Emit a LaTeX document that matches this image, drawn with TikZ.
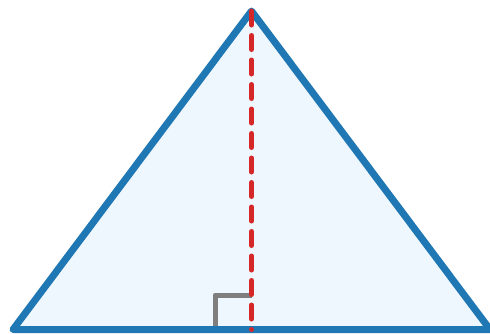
\documentclass[tikz,border=0pt]{standalone}
\usepackage{tikz}
\definecolor{triblue}{HTML}{1F77B4}
\definecolor{trifill}{HTML}{EEF6FE}
\definecolor{trired}{HTML}{D62728}
\definecolor{trigray}{HTML}{7F7F7F}
\tikzset{
  outline/.style={draw=triblue, line width=7pt, line join=round, fill=trifill},
  heightline/.style={draw=trired, line width=5pt, line cap=round, dash pattern=on 14pt off 10.5pt},
  rightmark/.style={draw=trigray, line width=5pt, line join=round}
}
\begin{document}
\begin{tikzpicture}[x=1pt,y=-1pt]
\useasboundingbox (0,0) rectangle (490,333);
\coordinate (A) at (251.5,11);
\coordinate (B) at (13,329.5);
\coordinate (C) at (490,329.5);
\coordinate (H) at (251.5,329.5);
\coordinate (M1) at (215,329.5);
\coordinate (M2) at (215,295);
\coordinate (M3) at (251.5,295);
\fill[trifill] (A) -- (B) -- (C) -- cycle;
\draw[rightmark] (M1) -- (M2) -- (M3);
\draw[outline, fill=none] (A) -- (B) -- (C) -- cycle;
\draw[heightline] (A) -- (H);
\end{tikzpicture}
\end{document}
